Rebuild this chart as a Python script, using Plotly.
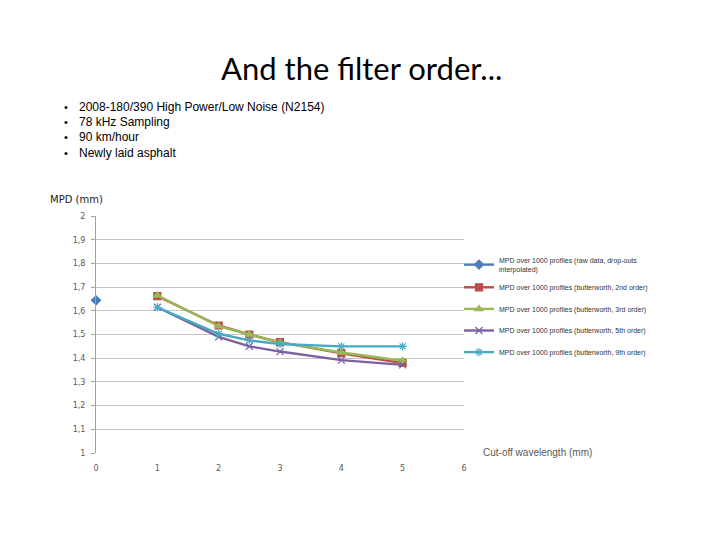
import plotly.graph_objects as go

# ---- data ----
cutoff = [1, 2, 2.5, 3, 4, 5]
raw_x = [0]
raw_y = [1.644]
bw2 = [1.662, 1.538, 1.500, 1.468, 1.421, 1.380]
bw3 = [1.665, 1.535, 1.500, 1.466, 1.424, 1.389]
bw5 = [1.615, 1.490, 1.450, 1.428, 1.392, 1.372]
bw9 = [1.615, 1.503, 1.475, 1.460, 1.450, 1.450]

names = [
    "MPD over 1000 profiles (raw data, drop-outs<br>interpolated)",
    "MPD over 1000 profiles (butterworth, 2nd order)",
    "MPD over 1000 profiles (butterworth, 3rd order)",
    "MPD over 1000 profiles (butterworth, 5th order)",
    "MPD over 1000 profiles (butterworth, 9th order)",
]
colors = ["#4a7ebb", "#be4b48", "#98b954", "#7d60a0", "#46aac5"]
symbols = ["diamond", "square", "triangle-up", "x-thin-open", "asterisk-open"]

bullets = [
    "2008-180/390 High Power/Low Noise (N2154)",
    "78 kHz Sampling",
    "90 km/hour",
    "Newly laid asphalt",
]

OFF = 8  # page body margin
W, H = 720 - OFF, 540 - OFF
L, R, T, B = 96 - OFF, 464 - OFF, 216 - OFF, 453 - OFF


def px(xp, yp):
    # screen pixel -> paper coordinates
    xp -= OFF
    yp -= OFF
    return (xp - L) / (R - L), (B - yp) / (B - T)


fig = go.Figure()
series = [(raw_x, raw_y), (cutoff, bw2), (cutoff, bw3), (cutoff, bw5), (cutoff, bw9)]
for i, (xs, ys) in enumerate(series):
    fig.add_trace(go.Scatter(
        x=xs, y=ys, mode="lines+markers", name=names[i],
        legendgroup=str(i), cliponaxis=False,
        line=dict(color=colors[i], width=2.4),
        marker=dict(symbol=symbols[i], color=colors[i], size=7,
                    line=dict(color=colors[i], width=1.2)),
    ))

ann = []
tx, ty = px(361, 68)
ann.append(dict(x=tx, y=ty, text="And the filter order...", showarrow=False,
                xanchor="center", yanchor="middle",
                font=dict(family="Lato, Open Sans, sans-serif", size=31, color="#000000")))
for k, b in enumerate(bullets):
    bx, by = px(62, 106.5 + k * 15.4)
    ann.append(dict(x=bx, y=by, text="•", showarrow=False, xanchor="left", yanchor="middle",
                    font=dict(family="Liberation Sans, Arial", size=11, color="#000000")))
    bx2, _ = px(77, 0)
    ann.append(dict(x=bx2, y=by, text=b, showarrow=False, xanchor="left", yanchor="middle",
                    font=dict(family="Liberation Sans, Arial", size=12, color="#000000")))
mx, my = px(48, 199)
ann.append(dict(x=mx, y=my, text="MPD (mm)", showarrow=False, xanchor="left", yanchor="middle",
                font=dict(family="DejaVu Sans", size=10, color="#222222")))
cx, cy = px(481, 452)
ann.append(dict(x=cx, y=cy, text="Cut-off wavelength (mm)", showarrow=False,
                xanchor="left", yanchor="middle",
                font=dict(family="Liberation Sans, Arial", size=10, color="#595959")))
for a in ann:
    a["xref"] = "paper"
    a["yref"] = "paper"

lx, ly = px(459, 249)
fig.update_layout(
    width=W, height=H,
    margin=dict(l=L, r=W - R, t=T, b=H - B, pad=0),
    paper_bgcolor="white", plot_bgcolor="white",
    separators=", ",
    showlegend=True,
    legend=dict(x=lx, y=ly, xanchor="left", yanchor="top",
                font=dict(family="Liberation Sans, Arial", size=7, color="#333333"),
                tracegroupgap=2.6, itemwidth=30, bgcolor="rgba(0,0,0,0)"),
    annotations=ann,
    xaxis=dict(range=[0, 6], tickvals=[0, 1, 2, 3, 4, 5, 6], showgrid=False,
               zeroline=False, showline=False, ticks="", ticklabelstandoff=9,
               tickfont=dict(family="DejaVu Sans", size=8, color="#595959")),
    yaxis=dict(range=[1, 2], dtick=0.1, showgrid=True, gridcolor="#c4c4c4", gridwidth=1,
               zeroline=False, showline=True, linecolor="#a0a0a0", linewidth=1,
               ticks="outside", ticklen=4, tickcolor="#a0a0a0", ticklabelstandoff=4,
               tickfont=dict(family="DejaVu Sans", size=8, color="#595959")),
)
fig.write_html("out.html")
